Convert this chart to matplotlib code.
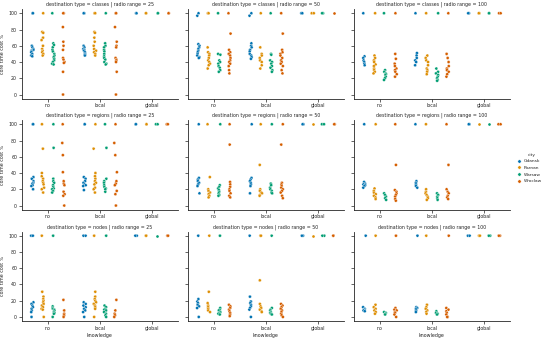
import matplotlib
matplotlib.use("Agg")
import matplotlib.pyplot as plt
from matplotlib.lines import Line2D
import numpy as np
import pandas as pd
import seaborn as sns
import warnings
warnings.filterwarnings("ignore")

np.random.seed(3)

cities = ["Gdansk", "Poznan", "Warsaw", "Wroclaw"]
knowledge = ["no", "local", "global"]
dest_types = ["classes", "regions", "nodes"]
radio_ranges = [25, 50, 100]
colors = ["#0173b2", "#de8f05", "#029e73", "#d55e00"]

# each: [Gdansk, Poznan, Warsaw, Wroclaw]
classes_25_no = [[100, 100, 60, 58, 56, 55, 54, 53, 52, 50, 48, 47],
                 [100, 77, 76, 70, 67, 60, 56, 54, 52, 50, 48],
                 [100, 63, 61, 58, 55, 53, 50, 48, 46, 44, 42, 40, 38, 37],
                 [100, 100, 83, 65, 60, 55, 45, 43, 40, 39, 28, 0]]
classes_25_local = [[100, 100, 60, 58, 56, 55, 54, 52, 50, 49, 48],
                    [100, 100, 77, 76, 70, 65, 60, 56, 54, 52, 50, 48],
                    [100, 63, 60, 58, 55, 53, 50, 47, 45, 43, 40, 38, 37],
                    [100, 100, 83, 65, 60, 58, 45, 43, 42, 40, 28, 0]]
classes_25_global = [[100, 100], [100, 100], [100, 100], [100, 100]]

classes_50_no = [[100, 97, 62, 60, 58, 56, 54, 52, 50, 48, 46, 45],
                 [100, 100, 58, 52, 50, 48, 45, 42, 40, 38, 36, 32],
                 [100, 50, 49, 42, 40, 38, 35, 33, 30, 28],
                 [100, 75, 55, 52, 50, 48, 45, 42, 40, 38, 35, 30, 26]]
classes_50_local = [[100, 97, 63, 60, 58, 55, 53, 50, 48, 46, 44],
                    [100, 58, 50, 48, 45, 42, 40, 36, 32],
                    [100, 50, 49, 42, 40, 38, 35, 33, 30, 28],
                    [100, 75, 55, 52, 50, 48, 45, 42, 40, 38, 35, 30, 26]]
classes_50_global = [[100, 100], [100, 100], [100, 100], [100]]

classes_100_no = [[100, 47, 45, 42, 40, 38, 36],
                  [100, 48, 45, 42, 40, 37, 35, 32, 30, 28, 26],
                  [100, 30, 28, 26, 25, 24, 22, 20, 18],
                  [100, 50, 44, 38, 35, 32, 30, 28, 25, 22]]
classes_100_local = [[100, 51, 48, 45, 42, 40, 36],
                     [100, 48, 45, 42, 40, 36, 32, 30, 28, 25],
                     [100, 32, 28, 26, 24, 22, 20, 18, 17],
                     [100, 50, 45, 40, 35, 32, 30, 28, 25, 22]]
classes_100_global = [[100, 100], [100, 100], [100, 100], [100, 100]]

regions_25_no = [[100, 100, 35, 33, 30, 28, 27, 25, 24, 20],
                 [100, 70, 40, 36, 33, 30, 28, 26, 22, 20, 16],
                 [100, 71, 33, 30, 28, 25, 23, 21, 20, 18, 16],
                 [100, 77, 62, 41, 30, 27, 25, 17, 14, 12, 0]]
regions_25_local = [[100, 100, 35, 33, 30, 28, 26, 25, 24, 19],
                    [100, 70, 40, 36, 33, 30, 28, 26, 22, 20, 16],
                    [100, 71, 33, 30, 28, 25, 23, 21, 20, 17],
                    [100, 77, 62, 41, 30, 27, 25, 18, 14, 0]]
regions_25_global = [[100, 100], [100, 100], [100, 100], [100, 100]]

regions_50_no = [[100, 34, 32, 30, 28, 26, 24, 15],
                 [100, 35, 20, 18, 16, 14, 12, 10],
                 [100, 25, 23, 21, 19, 17, 15, 13, 12],
                 [100, 75, 29, 26, 23, 20, 18, 15, 12, 10]]
regions_50_local = [[100, 34, 32, 30, 28, 26, 24, 15],
                    [100, 50, 20, 18, 16, 15, 13, 12],
                    [100, 27, 25, 22, 20, 18, 16, 15],
                    [100, 75, 28, 26, 24, 22, 20, 18, 16, 12, 9]]
regions_50_global = [[100, 100], [100], [100, 100], [100, 100]]

regions_100_no = [[100, 29, 27, 26, 25, 24, 22],
                  [100, 21, 18, 16, 14, 12, 10, 8],
                  [15, 13, 11, 9, 7],
                  [100, 50, 19, 17, 15, 13, 11, 8, 6]]
regions_100_local = [[100, 30, 28, 26, 24, 22],
                     [100, 20, 17, 15, 13, 11, 9, 7],
                     [15, 13, 11, 9, 7],
                     [100, 50, 20, 17, 15, 12, 10, 8]]
regions_100_global = [[100, 100], [100], [100], [100, 100]]

nodes_25_no = [[100, 100, 18, 16, 14, 12, 10, 8, 6, 0],
               [100, 31, 25, 22, 20, 18, 16, 14, 12, 10, 9, 0],
               [100, 13, 11, 10, 9, 8, 6, 5, 4, 0],
               [21, 8, 4, 2, 0]]
nodes_25_local = [[100, 100, 18, 16, 14, 12, 10, 8, 6, 0],
                  [100, 31, 25, 22, 20, 18, 16, 14, 12, 10, 0],
                  [100, 14, 12, 10, 9, 8, 6, 4, 2, 0],
                  [21, 8, 4, 2, 0]]
nodes_25_global = [[100, 100], [100, 100], [100], [100, 100]]

nodes_50_no = [[100, 22, 19, 17, 15, 13, 11, 0],
               [100, 31, 17, 14, 12, 10, 8, 6],
               [100, 11, 9, 8, 6, 5, 4, 3],
               [15, 13, 11, 9, 7, 5, 3, 1]]
nodes_50_local = [[100, 25, 19, 17, 15, 13, 11, 9, 0],
                  [100, 100, 45, 16, 13, 11, 9, 7, 6],
                  [100, 11, 9, 8, 6, 5, 4, 3],
                  [16, 14, 12, 10, 8, 6, 4, 2, 0]]
nodes_50_global = [[100, 100], [100], [100, 100], [100, 100]]

nodes_100_no = [[100, 12, 10, 9, 8, 7],
                [100, 15, 12, 10, 8, 6, 4],
                [6, 5, 4, 3],
                [100, 11, 9, 8, 6, 5, 3, 0]]
nodes_100_local = [[100, 12, 11, 10, 8, 6],
                   [100, 15, 12, 10, 8, 6, 4],
                   [7, 5, 4, 3],
                   [100, 11, 9, 7, 5, 3, 0, 0]]
nodes_100_global = [[100, 100], [100, 100], [100, 100], [100, 100]]

panels = {
    ("classes", 25): (classes_25_no, classes_25_local, classes_25_global),
    ("classes", 50): (classes_50_no, classes_50_local, classes_50_global),
    ("classes", 100): (classes_100_no, classes_100_local, classes_100_global),
    ("regions", 25): (regions_25_no, regions_25_local, regions_25_global),
    ("regions", 50): (regions_50_no, regions_50_local, regions_50_global),
    ("regions", 100): (regions_100_no, regions_100_local, regions_100_global),
    ("nodes", 25): (nodes_25_no, nodes_25_local, nodes_25_global),
    ("nodes", 50): (nodes_50_no, nodes_50_local, nodes_50_global),
    ("nodes", 100): (nodes_100_no, nodes_100_local, nodes_100_global),
}

sns.set_style("ticks")
plt.rcParams["font.family"] = ["DejaVu Sans"]
FS = 3.4
LFS = 3.2

W, H = 550, 340
fig = plt.figure(figsize=(W / 100, H / 100), dpi=100)
col_left = [22, 188, 354]
row_top = [9.2, 120.2, 231.6]
aw, ah = 156, 89.4

for r, dt in enumerate(dest_types):
    for c, rr in enumerate(radio_ranges):
        ax = fig.add_axes([col_left[c] / W, (H - row_top[r] - ah) / H, aw / W, ah / H])
        rows = []
        for k, groups in zip(knowledge, panels[(dt, rr)]):
            for city, vals in zip(cities, groups):
                for v in vals:
                    rows.append((k, city, v))
        df = pd.DataFrame(rows, columns=["knowledge", "city", "value"])
        sns.stripplot(data=df, x="knowledge", y="value", hue="city",
                      order=knowledge, hue_order=cities, palette=colors,
                      dodge=True, jitter=True, size=2.2, linewidth=0.25,
                      edgecolor="white", ax=ax, legend=False)
        ax.set_xlim(-0.5, 2.5)
        ax.set_ylim(-5, 105)
        ax.set_yticks([0, 20, 40, 60, 80, 100])
        ax.tick_params(labelsize=FS, length=2, width=0.5, pad=1.5)
        for s in ["left", "bottom"]:
            ax.spines[s].set_linewidth(0.6)
        sns.despine(ax=ax)
        ax.set_title(f"destination type = {dt} | radio range = {rr}", fontsize=FS, pad=2.5)
        if c == 0:
            ax.set_ylabel("core time cost %", fontsize=FS, labelpad=2)
        else:
            ax.set_ylabel("")
            ax.set_yticklabels([])
        if r == 2:
            ax.set_xlabel("knowledge", fontsize=FS, labelpad=1.5)
        else:
            ax.set_xlabel("")

handles = [Line2D([], [], marker="o", linestyle="", markersize=2.4,
                  markerfacecolor=col, markeredgecolor="white", markeredgewidth=0.3)
           for col in colors]
fig.legend(handles, cities, loc="upper left",
           bbox_to_anchor=(517 / W, 1 - 159 / H), frameon=False, fontsize=LFS,
           handletextpad=0.5, labelspacing=0.6, handlelength=1.0,
           borderaxespad=0, borderpad=0)
fig.text(528 / W, 1 - 155 / H, "city", fontsize=LFS, ha="left", va="center")

fig.savefig("out.png", dpi=100)
